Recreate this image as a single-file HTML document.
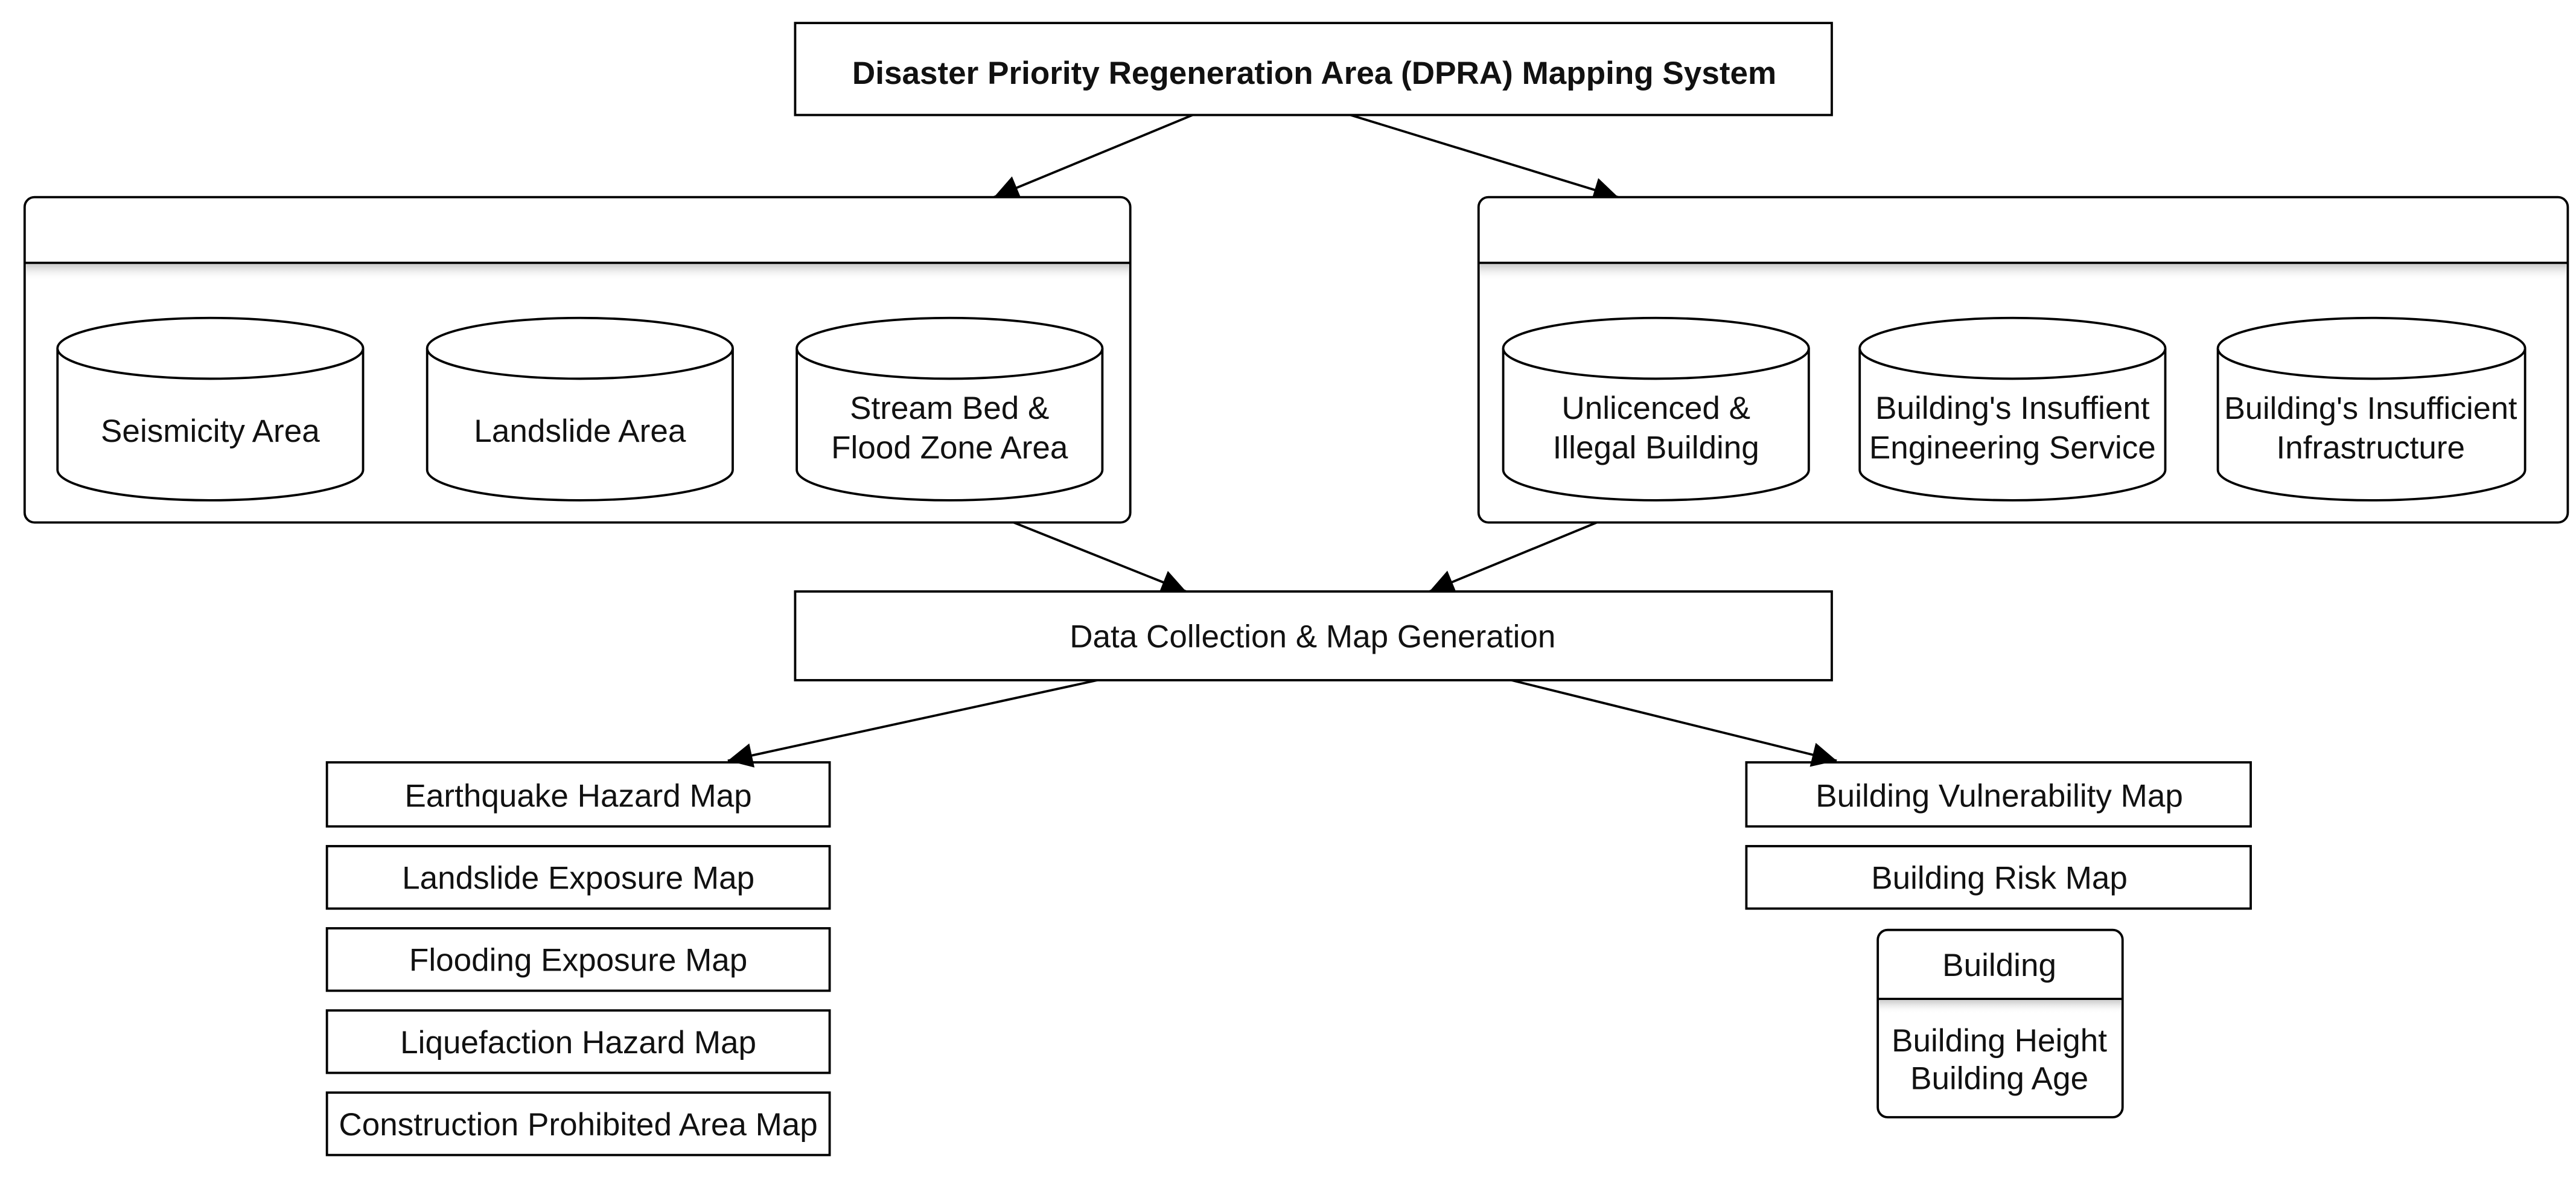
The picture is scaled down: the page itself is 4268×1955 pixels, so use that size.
<!DOCTYPE html>
<html><head><meta charset="utf-8"><style>
html,body{margin:0;padding:0;background:#fff;width:4268px;height:1955px;overflow:hidden}
svg{display:block}
text{font-family:"Liberation Sans",Arial,sans-serif;font-size:19.5px;fill:#111;text-anchor:middle}
</style></head><body>
<svg width="4268" height="1955" viewBox="0 0 1568 718.2" preserveAspectRatio="none" xmlns="http://www.w3.org/2000/svg">
<defs>
<marker id="a" viewBox="0 0 10 10" refX="10" refY="5" markerWidth="17" markerHeight="15" markerUnits="userSpaceOnUse" orient="auto"><path d="M0,0L10,5L0,10z" fill="#000"/></marker>
<linearGradient id="sh" x1="0" y1="0" x2="0" y2="1"><stop offset="0" stop-color="#ccc"/><stop offset="1" stop-color="#fff" stop-opacity="0"/></linearGradient>
</defs>
<g fill="none" stroke="#000" stroke-width="1.4">
<rect x="484" y="14" width="631" height="56" fill="#fff"/>
<line x1="726" y1="70" x2="605" y2="120" marker-end="url(#a)"/>
<line x1="822" y1="70" x2="985" y2="120" marker-end="url(#a)"/>
<rect x="15" y="120" width="673" height="198" rx="6" fill="#fff"/>
<rect x="16" y="161" width="671" height="10" fill="url(#sh)" stroke="none"/>
<line x1="15" y1="160" x2="688" y2="160"/>
<rect x="900" y="120" width="663" height="198" rx="6" fill="#fff"/>
<rect x="901" y="161" width="661" height="10" fill="url(#sh)" stroke="none"/>
<line x1="900" y1="160" x2="1563" y2="160"/>
<line x1="617" y1="318" x2="722" y2="360" marker-end="url(#a)"/>
<line x1="972" y1="318" x2="870" y2="360" marker-end="url(#a)"/>
<rect x="484" y="360" width="631" height="54" fill="#fff"/>
<line x1="668" y1="414" x2="443" y2="463" marker-end="url(#a)"/>
<line x1="920" y1="414" x2="1118" y2="463" marker-end="url(#a)"/>
<rect x="199" y="464" width="306" height="39"/>
<rect x="199" y="515" width="306" height="38"/>
<rect x="199" y="565" width="306" height="38"/>
<rect x="199" y="615" width="306" height="38"/>
<rect x="199" y="665" width="306" height="38"/>
<rect x="1063" y="464" width="307" height="39"/>
<rect x="1063" y="515" width="307" height="38"/>
<rect x="1143" y="566" width="149" height="114" rx="6" fill="#fff"/>
<rect x="1144" y="609" width="147" height="8" fill="url(#sh)" stroke="none"/>
<line x1="1143" y1="608" x2="1292" y2="608"/>
</g>
<g fill="#fff" stroke="#000" stroke-width="1.4">
<path d="M35,212 A93,18.5 0 0 1 221,212 V286 A93,18.5 0 0 1 35,286 Z"/><path d="M35,212 A93,18.5 0 0 0 221,212"/>
<path d="M260,212 A93,18.5 0 0 1 446,212 V286 A93,18.5 0 0 1 260,286 Z"/><path d="M260,212 A93,18.5 0 0 0 446,212"/>
<path d="M485,212 A93,18.5 0 0 1 671,212 V286 A93,18.5 0 0 1 485,286 Z"/><path d="M485,212 A93,18.5 0 0 0 671,212"/>
<path d="M915,212 A93,18.5 0 0 1 1101,212 V286 A93,18.5 0 0 1 915,286 Z"/><path d="M915,212 A93,18.5 0 0 0 1101,212"/>
<path d="M1132,212 A93,18.5 0 0 1 1318,212 V286 A93,18.5 0 0 1 1132,286 Z"/><path d="M1132,212 A93,18.5 0 0 0 1318,212"/>
<path d="M1350,212 A93.5,18.5 0 0 1 1537,212 V286 A93.5,18.5 0 0 1 1350,286 Z"/><path d="M1350,212 A93.5,18.5 0 0 0 1537,212"/>
</g>
<text x="800" y="51" style="font-weight:bold;font-size:19.5px">Disaster Priority Regeneration Area (DPRA) Mapping System</text>
<text x="128" y="269">Seismicity Area</text>
<text x="353" y="269">Landslide Area</text>
<text x="578" y="255">Stream Bed &amp;</text>
<text x="578" y="279">Flood Zone Area</text>
<text x="1008" y="255">Unlicenced &amp;</text>
<text x="1008" y="279">Illegal Building</text>
<text x="1225" y="255">Building's Insuffient</text>
<text x="1225" y="279">Engineering Service</text>
<text x="1443" y="255" style="font-size:19.2px">Building's Insufficient</text>
<text x="1443" y="279">Infrastructure</text>
<text x="799" y="394">Data Collection &amp; Map Generation</text>
<text x="352" y="491">Earthquake Hazard Map</text>
<text x="352" y="541">Landslide Exposure Map</text>
<text x="352" y="591">Flooding Exposure Map</text>
<text x="352" y="641">Liquefaction Hazard Map</text>
<text x="352" y="691" style="font-size:19.5px">Construction Prohibited Area Map</text>
<text x="1217" y="491">Building Vulnerability Map</text>
<text x="1217" y="541">Building Risk Map</text>
<text x="1217" y="594">Building</text>
<text x="1217" y="640">Building Height</text>
<text x="1217" y="663">Building Age</text>
</svg>
</body></html>
